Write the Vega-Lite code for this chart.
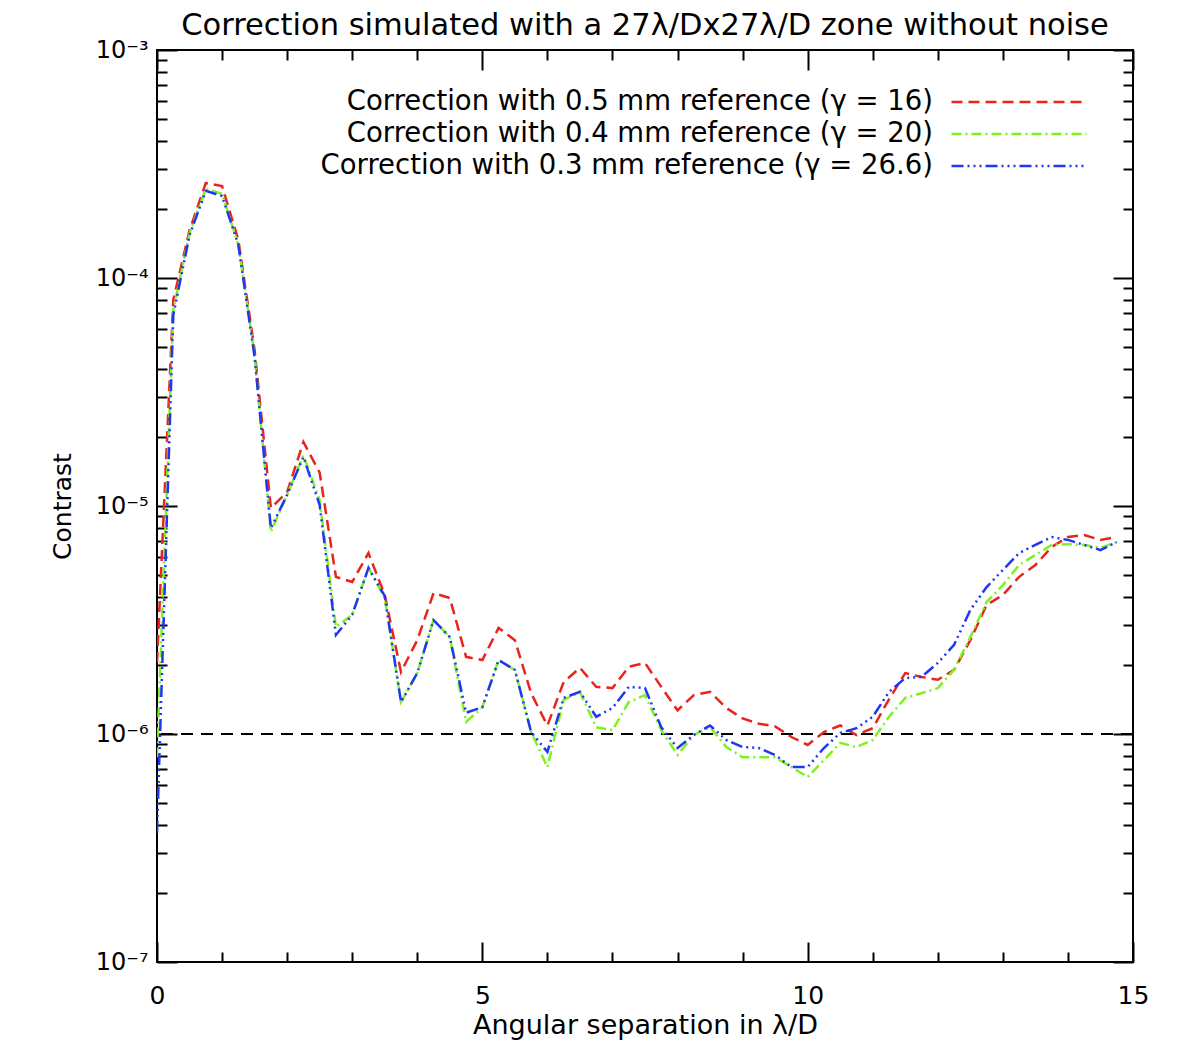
{
  "$schema": "https://vega.github.io/schema/vega-lite/v6.json",
  "autosize": {"type": "none"},
  "width": 976,
  "height": 912,
  "padding": {"left": 157, "top": 50, "right": 46, "bottom": 100},
  "background": "white",
  "config": {"font": "DejaVu Sans", "view": {"stroke": "black", "strokeWidth": 2}},
  "title": {"text": "Correction simulated with a 27λ/Dx27λ/D zone without noise", "fontSize": 30.5, "fontWeight": "normal", "color": "black", "anchor": "middle", "offset": -3},
  "datasets": {
    "curves": [
      {"x":0,"ref":"Correction with 0.5 mm reference (γ = 16)","c":2.05e-6},
      {"x":0.25,"ref":"Correction with 0.5 mm reference (γ = 16)","c":8.0e-5},
      {"x":0.5,"ref":"Correction with 0.5 mm reference (γ = 16)","c":1.62e-4},
      {"x":0.75,"ref":"Correction with 0.5 mm reference (γ = 16)","c":2.61e-4},
      {"x":1.0,"ref":"Correction with 0.5 mm reference (γ = 16)","c":2.53e-4},
      {"x":1.25,"ref":"Correction with 0.5 mm reference (γ = 16)","c":1.47e-4},
      {"x":1.5,"ref":"Correction with 0.5 mm reference (γ = 16)","c":4.83e-5},
      {"x":1.75,"ref":"Correction with 0.5 mm reference (γ = 16)","c":9.8e-6},
      {"x":2.0,"ref":"Correction with 0.5 mm reference (γ = 16)","c":1.15e-5},
      {"x":2.25,"ref":"Correction with 0.5 mm reference (γ = 16)","c":1.91e-5},
      {"x":2.5,"ref":"Correction with 0.5 mm reference (γ = 16)","c":1.40e-5},
      {"x":2.75,"ref":"Correction with 0.5 mm reference (γ = 16)","c":4.89e-6},
      {"x":3.0,"ref":"Correction with 0.5 mm reference (γ = 16)","c":4.64e-6},
      {"x":3.25,"ref":"Correction with 0.5 mm reference (γ = 16)","c":6.22e-6},
      {"x":3.5,"ref":"Correction with 0.5 mm reference (γ = 16)","c":4.07e-6},
      {"x":3.75,"ref":"Correction with 0.5 mm reference (γ = 16)","c":1.87e-6},
      {"x":4.0,"ref":"Correction with 0.5 mm reference (γ = 16)","c":2.58e-6},
      {"x":4.25,"ref":"Correction with 0.5 mm reference (γ = 16)","c":4.15e-6},
      {"x":4.5,"ref":"Correction with 0.5 mm reference (γ = 16)","c":3.95e-6},
      {"x":4.75,"ref":"Correction with 0.5 mm reference (γ = 16)","c":2.18e-6},
      {"x":5.0,"ref":"Correction with 0.5 mm reference (γ = 16)","c":2.11e-6},
      {"x":5.25,"ref":"Correction with 0.5 mm reference (γ = 16)","c":2.92e-6},
      {"x":5.5,"ref":"Correction with 0.5 mm reference (γ = 16)","c":2.58e-6},
      {"x":5.75,"ref":"Correction with 0.5 mm reference (γ = 16)","c":1.51e-6},
      {"x":6.0,"ref":"Correction with 0.5 mm reference (γ = 16)","c":1.09e-6},
      {"x":6.25,"ref":"Correction with 0.5 mm reference (γ = 16)","c":1.69e-6},
      {"x":6.5,"ref":"Correction with 0.5 mm reference (γ = 16)","c":1.95e-6},
      {"x":6.75,"ref":"Correction with 0.5 mm reference (γ = 16)","c":1.61e-6},
      {"x":7.0,"ref":"Correction with 0.5 mm reference (γ = 16)","c":1.59e-6},
      {"x":7.25,"ref":"Correction with 0.5 mm reference (γ = 16)","c":1.97e-6},
      {"x":7.5,"ref":"Correction with 0.5 mm reference (γ = 16)","c":2.05e-6},
      {"x":7.75,"ref":"Correction with 0.5 mm reference (γ = 16)","c":1.61e-6},
      {"x":8.0,"ref":"Correction with 0.5 mm reference (γ = 16)","c":1.27e-6},
      {"x":8.25,"ref":"Correction with 0.5 mm reference (γ = 16)","c":1.48e-6},
      {"x":8.5,"ref":"Correction with 0.5 mm reference (γ = 16)","c":1.53e-6},
      {"x":8.75,"ref":"Correction with 0.5 mm reference (γ = 16)","c":1.30e-6},
      {"x":9.0,"ref":"Correction with 0.5 mm reference (γ = 16)","c":1.17e-6},
      {"x":9.25,"ref":"Correction with 0.5 mm reference (γ = 16)","c":1.11e-6},
      {"x":9.5,"ref":"Correction with 0.5 mm reference (γ = 16)","c":1.08e-6},
      {"x":9.75,"ref":"Correction with 0.5 mm reference (γ = 16)","c":9.7e-7},
      {"x":10.0,"ref":"Correction with 0.5 mm reference (γ = 16)","c":8.95e-7},
      {"x":10.25,"ref":"Correction with 0.5 mm reference (γ = 16)","c":1.02e-6},
      {"x":10.5,"ref":"Correction with 0.5 mm reference (γ = 16)","c":1.09e-6},
      {"x":10.75,"ref":"Correction with 0.5 mm reference (γ = 16)","c":9.9e-7},
      {"x":11.0,"ref":"Correction with 0.5 mm reference (γ = 16)","c":1.06e-6},
      {"x":11.25,"ref":"Correction with 0.5 mm reference (γ = 16)","c":1.42e-6},
      {"x":11.5,"ref":"Correction with 0.5 mm reference (γ = 16)","c":1.85e-6},
      {"x":11.75,"ref":"Correction with 0.5 mm reference (γ = 16)","c":1.78e-6},
      {"x":12.0,"ref":"Correction with 0.5 mm reference (γ = 16)","c":1.73e-6},
      {"x":12.25,"ref":"Correction with 0.5 mm reference (γ = 16)","c":1.91e-6},
      {"x":12.5,"ref":"Correction with 0.5 mm reference (γ = 16)","c":2.58e-6},
      {"x":12.75,"ref":"Correction with 0.5 mm reference (γ = 16)","c":3.68e-6},
      {"x":13.0,"ref":"Correction with 0.5 mm reference (γ = 16)","c":4.07e-6},
      {"x":13.25,"ref":"Correction with 0.5 mm reference (γ = 16)","c":4.89e-6},
      {"x":13.5,"ref":"Correction with 0.5 mm reference (γ = 16)","c":5.51e-6},
      {"x":13.75,"ref":"Correction with 0.5 mm reference (γ = 16)","c":6.61e-6},
      {"x":14.0,"ref":"Correction with 0.5 mm reference (γ = 16)","c":7.31e-6},
      {"x":14.25,"ref":"Correction with 0.5 mm reference (γ = 16)","c":7.46e-6},
      {"x":14.5,"ref":"Correction with 0.5 mm reference (γ = 16)","c":7.10e-6},
      {"x":14.75,"ref":"Correction with 0.5 mm reference (γ = 16)","c":7.31e-6},
      {"x":0,"ref":"Correction with 0.4 mm reference (γ = 20)","c":7.9e-7},
      {"x":0.25,"ref":"Correction with 0.4 mm reference (γ = 20)","c":7.24e-5},
      {"x":0.5,"ref":"Correction with 0.4 mm reference (γ = 20)","c":1.57e-4},
      {"x":0.75,"ref":"Correction with 0.4 mm reference (γ = 20)","c":2.46e-4},
      {"x":1.0,"ref":"Correction with 0.4 mm reference (γ = 20)","c":2.34e-4},
      {"x":1.25,"ref":"Correction with 0.4 mm reference (γ = 20)","c":1.40e-4},
      {"x":1.5,"ref":"Correction with 0.4 mm reference (γ = 20)","c":4.59e-5},
      {"x":1.75,"ref":"Correction with 0.4 mm reference (γ = 20)","c":7.69e-6},
      {"x":2.0,"ref":"Correction with 0.4 mm reference (γ = 20)","c":1.12e-5},
      {"x":2.25,"ref":"Correction with 0.4 mm reference (γ = 20)","c":1.67e-5},
      {"x":2.5,"ref":"Correction with 0.4 mm reference (γ = 20)","c":1.06e-5},
      {"x":2.75,"ref":"Correction with 0.4 mm reference (γ = 20)","c":2.95e-6},
      {"x":3.0,"ref":"Correction with 0.4 mm reference (γ = 20)","c":3.33e-6},
      {"x":3.25,"ref":"Correction with 0.4 mm reference (γ = 20)","c":5.35e-6},
      {"x":3.5,"ref":"Correction with 0.4 mm reference (γ = 20)","c":3.95e-6},
      {"x":3.75,"ref":"Correction with 0.4 mm reference (γ = 20)","c":1.38e-6},
      {"x":4.0,"ref":"Correction with 0.4 mm reference (γ = 20)","c":1.85e-6},
      {"x":4.25,"ref":"Correction with 0.4 mm reference (γ = 20)","c":3.16e-6},
      {"x":4.5,"ref":"Correction with 0.4 mm reference (γ = 20)","c":2.66e-6},
      {"x":4.75,"ref":"Correction with 0.4 mm reference (γ = 20)","c":1.13e-6},
      {"x":5.0,"ref":"Correction with 0.4 mm reference (γ = 20)","c":1.31e-6},
      {"x":5.25,"ref":"Correction with 0.4 mm reference (γ = 20)","c":2.11e-6},
      {"x":5.5,"ref":"Correction with 0.4 mm reference (γ = 20)","c":1.91e-6},
      {"x":5.75,"ref":"Correction with 0.4 mm reference (γ = 20)","c":1.02e-6},
      {"x":6.0,"ref":"Correction with 0.4 mm reference (γ = 20)","c":7.16e-7},
      {"x":6.25,"ref":"Correction with 0.4 mm reference (γ = 20)","c":1.41e-6},
      {"x":6.5,"ref":"Correction with 0.4 mm reference (γ = 20)","c":1.53e-6},
      {"x":6.75,"ref":"Correction with 0.4 mm reference (γ = 20)","c":1.07e-6},
      {"x":7.0,"ref":"Correction with 0.4 mm reference (γ = 20)","c":1.04e-6},
      {"x":7.25,"ref":"Correction with 0.4 mm reference (γ = 20)","c":1.38e-6},
      {"x":7.5,"ref":"Correction with 0.4 mm reference (γ = 20)","c":1.48e-6},
      {"x":7.75,"ref":"Correction with 0.4 mm reference (γ = 20)","c":1.04e-6},
      {"x":8.0,"ref":"Correction with 0.4 mm reference (γ = 20)","c":8.09e-7},
      {"x":8.25,"ref":"Correction with 0.4 mm reference (γ = 20)","c":9.9e-7},
      {"x":8.5,"ref":"Correction with 0.4 mm reference (γ = 20)","c":1.07e-6},
      {"x":8.75,"ref":"Correction with 0.4 mm reference (γ = 20)","c":8.77e-7},
      {"x":9.0,"ref":"Correction with 0.4 mm reference (γ = 20)","c":7.9e-7},
      {"x":9.25,"ref":"Correction with 0.4 mm reference (γ = 20)","c":7.9e-7},
      {"x":9.5,"ref":"Correction with 0.4 mm reference (γ = 20)","c":7.9e-7},
      {"x":9.75,"ref":"Correction with 0.4 mm reference (γ = 20)","c":7.16e-7},
      {"x":10.0,"ref":"Correction with 0.4 mm reference (γ = 20)","c":6.48e-7},
      {"x":10.25,"ref":"Correction with 0.4 mm reference (γ = 20)","c":7.69e-7},
      {"x":10.5,"ref":"Correction with 0.4 mm reference (γ = 20)","c":9.14e-7},
      {"x":10.75,"ref":"Correction with 0.4 mm reference (γ = 20)","c":8.77e-7},
      {"x":11.0,"ref":"Correction with 0.4 mm reference (γ = 20)","c":9.41e-7},
      {"x":11.25,"ref":"Correction with 0.4 mm reference (γ = 20)","c":1.19e-6},
      {"x":11.5,"ref":"Correction with 0.4 mm reference (γ = 20)","c":1.44e-6},
      {"x":11.75,"ref":"Correction with 0.4 mm reference (γ = 20)","c":1.51e-6},
      {"x":12.0,"ref":"Correction with 0.4 mm reference (γ = 20)","c":1.59e-6},
      {"x":12.25,"ref":"Correction with 0.4 mm reference (γ = 20)","c":1.91e-6},
      {"x":12.5,"ref":"Correction with 0.4 mm reference (γ = 20)","c":2.66e-6},
      {"x":12.75,"ref":"Correction with 0.4 mm reference (γ = 20)","c":3.79e-6},
      {"x":13.0,"ref":"Correction with 0.4 mm reference (γ = 20)","c":4.50e-6},
      {"x":13.25,"ref":"Correction with 0.4 mm reference (γ = 20)","c":5.51e-6},
      {"x":13.5,"ref":"Correction with 0.4 mm reference (γ = 20)","c":6.10e-6},
      {"x":13.75,"ref":"Correction with 0.4 mm reference (γ = 20)","c":6.75e-6},
      {"x":14.0,"ref":"Correction with 0.4 mm reference (γ = 20)","c":6.8e-6},
      {"x":14.25,"ref":"Correction with 0.4 mm reference (γ = 20)","c":6.75e-6},
      {"x":14.5,"ref":"Correction with 0.4 mm reference (γ = 20)","c":6.55e-6},
      {"x":14.75,"ref":"Correction with 0.4 mm reference (γ = 20)","c":6.95e-6},
      {"x":0,"ref":"Correction with 0.3 mm reference (γ = 26.6)","c":3.68e-7},
      {"x":0.25,"ref":"Correction with 0.3 mm reference (γ = 26.6)","c":6.88e-5},
      {"x":0.5,"ref":"Correction with 0.3 mm reference (γ = 26.6)","c":1.54e-4},
      {"x":0.75,"ref":"Correction with 0.3 mm reference (γ = 26.6)","c":2.41e-4},
      {"x":1.0,"ref":"Correction with 0.3 mm reference (γ = 26.6)","c":2.29e-4},
      {"x":1.25,"ref":"Correction with 0.3 mm reference (γ = 26.6)","c":1.40e-4},
      {"x":1.5,"ref":"Correction with 0.3 mm reference (γ = 26.6)","c":4.5e-5},
      {"x":1.75,"ref":"Correction with 0.3 mm reference (γ = 26.6)","c":8.0e-6},
      {"x":2.0,"ref":"Correction with 0.3 mm reference (γ = 26.6)","c":1.12e-5},
      {"x":2.25,"ref":"Correction with 0.3 mm reference (γ = 26.6)","c":1.64e-5},
      {"x":2.5,"ref":"Correction with 0.3 mm reference (γ = 26.6)","c":1.01e-5},
      {"x":2.75,"ref":"Correction with 0.3 mm reference (γ = 26.6)","c":2.72e-6},
      {"x":3.0,"ref":"Correction with 0.3 mm reference (γ = 26.6)","c":3.33e-6},
      {"x":3.25,"ref":"Correction with 0.3 mm reference (γ = 26.6)","c":5.35e-6},
      {"x":3.5,"ref":"Correction with 0.3 mm reference (γ = 26.6)","c":4.03e-6},
      {"x":3.75,"ref":"Correction with 0.3 mm reference (γ = 26.6)","c":1.38e-6},
      {"x":4.0,"ref":"Correction with 0.3 mm reference (γ = 26.6)","c":1.85e-6},
      {"x":4.25,"ref":"Correction with 0.3 mm reference (γ = 26.6)","c":3.16e-6},
      {"x":4.5,"ref":"Correction with 0.3 mm reference (γ = 26.6)","c":2.66e-6},
      {"x":4.75,"ref":"Correction with 0.3 mm reference (γ = 26.6)","c":1.24e-6},
      {"x":5.0,"ref":"Correction with 0.3 mm reference (γ = 26.6)","c":1.31e-6},
      {"x":5.25,"ref":"Correction with 0.3 mm reference (γ = 26.6)","c":2.11e-6},
      {"x":5.5,"ref":"Correction with 0.3 mm reference (γ = 26.6)","c":1.91e-6},
      {"x":5.75,"ref":"Correction with 0.3 mm reference (γ = 26.6)","c":1.02e-6},
      {"x":6.0,"ref":"Correction with 0.3 mm reference (γ = 26.6)","c":8.34e-7},
      {"x":6.25,"ref":"Correction with 0.3 mm reference (γ = 26.6)","c":1.44e-6},
      {"x":6.5,"ref":"Correction with 0.3 mm reference (γ = 26.6)","c":1.53e-6},
      {"x":6.75,"ref":"Correction with 0.3 mm reference (γ = 26.6)","c":1.19e-6},
      {"x":7.0,"ref":"Correction with 0.3 mm reference (γ = 26.6)","c":1.30e-6},
      {"x":7.25,"ref":"Correction with 0.3 mm reference (γ = 26.6)","c":1.61e-6},
      {"x":7.5,"ref":"Correction with 0.3 mm reference (γ = 26.6)","c":1.59e-6},
      {"x":7.75,"ref":"Correction with 0.3 mm reference (γ = 26.6)","c":1.07e-6},
      {"x":8.0,"ref":"Correction with 0.3 mm reference (γ = 26.6)","c":8.68e-7},
      {"x":8.25,"ref":"Correction with 0.3 mm reference (γ = 26.6)","c":9.9e-7},
      {"x":8.5,"ref":"Correction with 0.3 mm reference (γ = 26.6)","c":1.09e-6},
      {"x":8.75,"ref":"Correction with 0.3 mm reference (γ = 26.6)","c":9.41e-7},
      {"x":9.0,"ref":"Correction with 0.3 mm reference (γ = 26.6)","c":8.77e-7},
      {"x":9.25,"ref":"Correction with 0.3 mm reference (γ = 26.6)","c":8.68e-7},
      {"x":9.5,"ref":"Correction with 0.3 mm reference (γ = 26.6)","c":8.09e-7},
      {"x":9.75,"ref":"Correction with 0.3 mm reference (γ = 26.6)","c":7.16e-7},
      {"x":10.0,"ref":"Correction with 0.3 mm reference (γ = 26.6)","c":7.16e-7},
      {"x":10.25,"ref":"Correction with 0.3 mm reference (γ = 26.6)","c":8.68e-7},
      {"x":10.5,"ref":"Correction with 0.3 mm reference (γ = 26.6)","c":1.01e-6},
      {"x":10.75,"ref":"Correction with 0.3 mm reference (γ = 26.6)","c":1.06e-6},
      {"x":11.0,"ref":"Correction with 0.3 mm reference (γ = 26.6)","c":1.19e-6},
      {"x":11.25,"ref":"Correction with 0.3 mm reference (γ = 26.6)","c":1.53e-6},
      {"x":11.5,"ref":"Correction with 0.3 mm reference (γ = 26.6)","c":1.76e-6},
      {"x":11.75,"ref":"Correction with 0.3 mm reference (γ = 26.6)","c":1.78e-6},
      {"x":12.0,"ref":"Correction with 0.3 mm reference (γ = 26.6)","c":2.05e-6},
      {"x":12.25,"ref":"Correction with 0.3 mm reference (γ = 26.6)","c":2.46e-6},
      {"x":12.5,"ref":"Correction with 0.3 mm reference (γ = 26.6)","c":3.50e-6},
      {"x":12.75,"ref":"Correction with 0.3 mm reference (γ = 26.6)","c":4.41e-6},
      {"x":13.0,"ref":"Correction with 0.3 mm reference (γ = 26.6)","c":5.24e-6},
      {"x":13.25,"ref":"Correction with 0.3 mm reference (γ = 26.6)","c":6.22e-6},
      {"x":13.5,"ref":"Correction with 0.3 mm reference (γ = 26.6)","c":6.75e-6},
      {"x":13.75,"ref":"Correction with 0.3 mm reference (γ = 26.6)","c":7.31e-6},
      {"x":14.0,"ref":"Correction with 0.3 mm reference (γ = 26.6)","c":7.10e-6},
      {"x":14.25,"ref":"Correction with 0.3 mm reference (γ = 26.6)","c":6.75e-6},
      {"x":14.5,"ref":"Correction with 0.3 mm reference (γ = 26.6)","c":6.41e-6},
      {"x":14.75,"ref":"Correction with 0.3 mm reference (γ = 26.6)","c":6.95e-6}
    ],
    "level": [{"c": 1e-6}]
  },
  "resolve": {"axis": {"x": "independent", "y": "independent"}},
  "layer": [
    {
      "data": {"name": "level"},
      "mark": {"type": "rule", "color": "black", "strokeWidth": 2, "strokeDash": [12, 8]},
      "encoding": {
        "y": {"field": "c", "type": "quantitative", "scale": {"type": "log", "domain": [1e-7, 1e-3], "nice": false}, "axis": null}
      }
    },
    {
      "data": {"name": "curves"},
      "mark": {"type": "line", "strokeWidth": 2.5, "clip": true},
      "encoding": {
        "x": {
          "field": "x", "type": "quantitative",
          "scale": {"domain": [0, 15], "nice": false, "zero": false},
          "axis": {
            "orient": "bottom", "values": [0,1,2,3,4,5,6,7,8,9,10,11,12,13,14,15],
            "labelExpr": "datum.value % 5 == 0 ? datum.label : ''",
            "domain": false, "grid": false,
            "tickColor": "black", "tickWidth": 2,
            "tickSize": {"condition": {"test": "datum.value % 5 == 0", "value": -20}, "value": -10},
            "labelFontSize": 25, "labelColor": "black", "labelPadding": 41, "labelFlush": false, "labelOverlap": false,
            "title": "Angular separation in λ/D", "titleFontSize": 27, "titleFontWeight": "normal", "titleColor": "black",
            "titleX": 488, "titleY": 63, "titleAlign": "center", "titleBaseline": "middle"
          }
        },
        "y": {
          "field": "c", "type": "quantitative",
          "scale": {"type": "log", "domain": [1e-7, 1e-3], "nice": false},
          "axis": {
            "orient": "left",
            "values": [1e-7,2e-7,3e-7,4e-7,5e-7,6e-7,7e-7,8e-7,9e-7,1e-6,2e-6,3e-6,4e-6,5e-6,6e-6,7e-6,8e-6,9e-6,1e-5,2e-5,3e-5,4e-5,5e-5,6e-5,7e-5,8e-5,9e-5,1e-4,2e-4,3e-4,4e-4,5e-4,6e-4,7e-4,8e-4,9e-4,1e-3],
            "labelExpr": "datum.value == 0.001 ? '10⁻³' : datum.value == 0.0001 ? '10⁻⁴' : datum.value == 0.00001 ? '10⁻⁵' : datum.value == 0.000001 ? '10⁻⁶' : datum.value == 0.0000001 ? '10⁻⁷' : ''",
            "domain": false, "grid": false,
            "tickColor": "black", "tickWidth": 2,
            "tickSize": {"condition": {"test": "abs(log(datum.value)/LN10 - round(log(datum.value)/LN10)) < 0.001", "value": -20}, "value": -10},
            "labelFontSize": 24, "labelColor": "black", "labelPadding": 29, "labelFlush": false, "labelOverlap": false, "labelBaseline": "middle",
            "title": "Contrast", "titleFontSize": 25, "titleFontWeight": "normal", "titleColor": "black",
            "titleX": -95, "titleY": 456, "titleAngle": -90, "titleAlign": "center", "titleBaseline": "middle"
          }
        },
        "color": {
          "field": "ref", "type": "nominal",
          "scale": {
            "domain": ["Correction with 0.5 mm reference (γ = 16)", "Correction with 0.4 mm reference (γ = 20)", "Correction with 0.3 mm reference (γ = 26.6)"],
            "range": ["#e8241c", "#7df21e", "#1f36f5"]
          },
          "legend": {
            "orient": "none", "legendX": 847, "legendY": 37, "title": null, "padding": 0,
            "labelAlign": "right", "labelOffset": -101, "labelLimit": 900, "labelFontSize": 27.5, "labelColor": "black", "labelBaseline": "middle",
            "symbolType": "M-5,0L5,0", "symbolSize": 729, "symbolStrokeWidth": 2.5, "rowPadding": 3
          }
        },
        "strokeDash": {
          "field": "ref", "type": "nominal",
          "scale": {
            "domain": ["Correction with 0.5 mm reference (γ = 16)", "Correction with 0.4 mm reference (γ = 20)", "Correction with 0.3 mm reference (γ = 26.6)"],
            "range": [[11, 6], [10, 4, 2, 4], [12, 4, 2, 4, 2, 4, 2, 4]]
          },
          "legend": {
            "orient": "none", "legendX": 847, "legendY": 37, "title": null, "padding": 0,
            "labelAlign": "right", "labelOffset": -101, "labelLimit": 900, "labelFontSize": 27.5, "labelColor": "black", "labelBaseline": "middle",
            "symbolType": "M-5,0L5,0", "symbolSize": 729, "symbolStrokeWidth": 2.5, "rowPadding": 3
          }
        }
      }
    },
    {
      "data": {"name": "curves"},
      "mark": {"type": "point", "opacity": 0},
      "encoding": {
        "x": {
          "field": "x", "type": "quantitative",
          "axis": {
            "orient": "top", "values": [0,1,2,3,4,5,6,7,8,9,10,11,12,13,14,15],
            "labels": false, "title": null, "domain": false, "grid": false,
            "tickColor": "black", "tickWidth": 2,
            "tickSize": {"condition": {"test": "datum.value % 5 == 0", "value": -20}, "value": -10}
          }
        },
        "y": {
          "field": "c", "type": "quantitative",
          "axis": {
            "orient": "right",
            "values": [1e-7,2e-7,3e-7,4e-7,5e-7,6e-7,7e-7,8e-7,9e-7,1e-6,2e-6,3e-6,4e-6,5e-6,6e-6,7e-6,8e-6,9e-6,1e-5,2e-5,3e-5,4e-5,5e-5,6e-5,7e-5,8e-5,9e-5,1e-4,2e-4,3e-4,4e-4,5e-4,6e-4,7e-4,8e-4,9e-4,1e-3],
            "labels": false, "title": null, "domain": false, "grid": false,
            "tickColor": "black", "tickWidth": 2,
            "tickSize": {"condition": {"test": "abs(log(datum.value)/LN10 - round(log(datum.value)/LN10)) < 0.001", "value": -20}, "value": -10}
          }
        }
      }
    }
  ]
}
